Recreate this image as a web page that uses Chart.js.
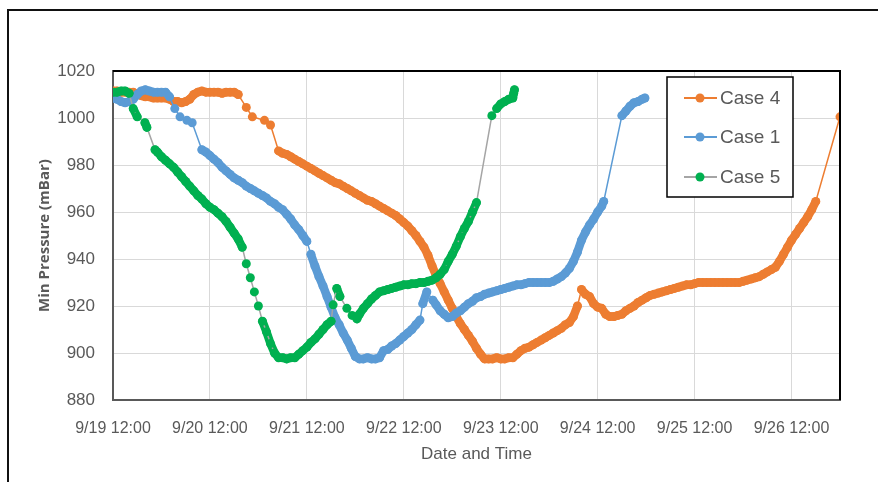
<!DOCTYPE html>
<html>
<head>
<meta charset="utf-8">
<script src="https://cdn.jsdelivr.net/npm/chart.js@4.4.1/dist/chart.umd.min.js"></script>
<style>
  html, body { margin: 0; padding: 0; background: #fff; }
  canvas { display: block; }
</style>
</head>
<body>
<canvas id="pressure" width="878" height="482"></canvas>
<script>
// hours since 9/19 12:00 and min pressure (mBar) for each case
const case4Hours = [0,1,2,3,4,5,6,7,8,9,10,11,12,13,14,15,16,17,18,19,20,21,22,23,24,25,26,27,28,29,30,31,
  33,34.5,37.5,39,
  41,42,43,44,45,46,47,48,49,50,51,52,53,54,55,56,
  57,58,59,60,61,62,63,64,65,66,67,68,69,70,71,72,73,74,75,76,77,
  78,79,80,81,82,83,84,85,86,87,88,89,90,91,92,
  93,94,95,96,97,98,99,
  100,101,102,103,104,105,106,107,108,109,110,111,112,113,114,
  115,116,117,118,119,120,121,122,123,
  124,125,126,127,128,129,130,131,132,133,134,135,136,137,138,139,140,141,142,143,144,145,
  146,147,148,149,150,151,152,153,154,155,156,157,158,159,160,161,162,163,164,
  165,166,167,168,169,170,171,172,173,174,
  180];
const case4Values = [1011.5,1011.5,1011,1011,1011,1011,1010,1009.5,1009,1009,1008.5,1008.5,1008.5,1008.5,1008,1007,1007,1006.5,1007,1008,1010,1011,1011.5,1011,1011,1011,1011,1010.5,1011,1011,1011,1010,
  1004.5,1000.5,999,997,
  986,985,984.5,983.5,982.5,981.5,980.5,979.5,978.5,977.5,976.5,975.5,974.5,973.5,972.5,972,
  971,970,969,968,967,966,965,964.5,963.5,962.5,961.5,960.5,959.5,958.5,957,955.5,954,952,950,947.5,945,
  941.5,937,933,929.5,926,922.5,919,915.5,912.5,910,907.5,905,902,899.5,897.5,
  897.5,897.5,898,897.5,897.5,898,898,
  899.5,901,902,902.5,903.5,904.5,905.5,906.5,907.5,908.5,909.5,910.5,912,913,915.5,
  920,927,925,924,921,919.5,919,916.5,915.5,
  915.5,916,916.5,918,919,920,921.5,922.5,923.5,924.5,925,925.5,926,926.5,927,927.5,928,928.5,929,929,929.5,930,
  930,930,930,930,930,930,930,930,930,930,930.5,931,931.5,932,932.5,933.5,934.5,935.5,936.5,
  939,942,945,948,950.5,953,955.5,958,961,964.5,
  1000.5];

const case1Hours = [0,1,2,3,4,5,6,7,8,9,10,11,12,13,14,
  15.3,16.6,18.3,19.6,
  22,23,24,25,26,27,28,29,
  30,31,32,33,34,35,36,37,38,39,40,41,42,43,44,45,46,47,48,
  49,50,51,52,53,54,55,56,57,58,59,60,
  61,62,63,64,65,66,
  67,68,69,70,71,72,73,74,75,76,
  76.7,77.7,79.2,
  80,81,82,83,84,85,86,87,88,89,90,91,92,93,94,95,96,97,98,99,100,101,102,103,104,105,106,107,108,
  109,110,111,112,113,114,115,116,117,118,119,120,121,
  121.5,
  126,127,128,129,130,131,131.7];
const case1Values = [1008.5,1008,1007,1006.5,1007,1008,1010,1011.5,1012,1011.5,1011,1011,1011,1011,1009,
  1004,1000.5,999,998,
  986.5,985.5,984,982.5,981,979,977.5,976,
  974.5,973.5,972.5,971,970,969,968,967,966,964.5,963.5,962,961,959,957,954.5,952.5,950,947.5,
  942,937,932.5,928.5,924,919.5,915,912,908.5,905.5,902,898.5,
  897.5,897.5,898,897.5,897.5,898,
  901,901.5,903,904,905.5,907,908.5,910,912,914,
  921,926,922.5,
  920.5,918,916.5,915,915.5,917,918,919.5,921,922,923.5,924,925,925.5,926,926.5,927,927.5,928,928.5,929,929,929.5,930,930,930,930,930,930,
  930.5,931.5,932.5,934,936,939,943,948,951.5,954.5,957,960,962.5,
  964.5,
  1001,1003,1005,1006.5,1007,1008,1008.5];

const case5Hours = [0,1,2,3,4,
  5,6,7.9,8.4,10.4,
  11,12,13,14,15,16,17,18,19,20,21,
  22,23,24,25,26,27,28,29,30,31,32,33,34,35,36,37,38,39,40,
  41,42,43,44,45,46,47,48,49,50,51,52,53,54,
  54.5,55.4,56.2,57.9,59.2,60.4,
  61,62,63,64,65,66,67,68,69,70,71,72,73,74,75,76,77,78,79,80,81,82,83,84,85,86,87,88,89,90,
  93.8,95,96,97,98,99,99.2,99.4];
const case5Values = [1011,1011,1011.5,1011.5,1010.5,
  1004,1000.5,998,996,986.5,
  985.5,983.5,982,980.5,979,977,975,973,971,969,967,
  965.5,963.5,962,961,959.5,958,956,953.5,951,948.5,945,938,932,926,920,913.5,909,904,900,
  898,898,897.5,898,898,899.5,901,902.5,904.5,906,908,910,912,913.5,
  920.5,927.5,924,919,916,914.5,
  916.5,919,921,923,924.5,926,926.5,927,927.5,928,928.5,929,929,929.5,929.5,930,930,930.5,931,932,933.5,935.5,939,942,945.5,949.5,953,956,960,964,
  1001,1004,1006,1007,1008,1008.5,1010.5,1012];

const tickHours = [0, 24, 48, 72, 96, 120, 144, 168];
const tickLabels = ['9/19 12:00', '9/20 12:00', '9/21 12:00', '9/22 12:00', '9/23 12:00', '9/24 12:00', '9/25 12:00', '9/26 12:00'];

const seriesNames = ['Case 4', 'Case 1', 'Case 5'];
const lineColors = ['#ed7d31', '#5b9bd5', '#a5a5a5'];
const dotColors = ['#ed7d31', '#5b9bd5', '#00b050'];

const textColor = '#595959';
const tickFont = "'Liberation Sans', Arial, sans-serif";

function toPoints(hours, values) {
    return hours.map((h, i) => ({ x: h, y: values[i] }));
}

const allHours = [case4Hours, case1Hours, case5Hours];
const allValues = [case4Values, case1Values, case5Values];

// hourly samples close together merge into a solid band of markers
function bandColor(hours, color) {
    return (seg) => {
        const dh = hours[seg.p1DataIndex] - hours[seg.p0DataIndex];
        const dist = Math.hypot(seg.p1.x - seg.p0.x, seg.p1.y - seg.p0.y);
        return (dh <= 1.01 && dist <= 13) ? color : 'rgba(0,0,0,0)';
    };
}

const datasets = [];
seriesNames.forEach((name, i) => {
    const pts = toPoints(allHours[i], allValues[i]);
    datasets.push({
        label: name + ' band',
        data: pts,
        borderColor: dotColors[i],
        borderWidth: 8.5,
        borderCapStyle: 'round',
        borderJoinStyle: 'round',
        pointRadius: 0,
        pointHoverRadius: 0,
        segment: { borderColor: bandColor(allHours[i], dotColors[i]) },
        order: 6 - 2 * i,
    });
    datasets.push({
        label: name,
        data: pts,
        borderColor: lineColors[i],
        backgroundColor: dotColors[i],
        borderWidth: 1.5,
        pointRadius: 4.5,
        pointHoverRadius: 4.5,
        pointBorderWidth: 0,
        pointBackgroundColor: dotColors[i],
        order: 5 - 2 * i,
    });
});

// white page + outer frame, plot box top/right edges
const framePlugin = {
    id: 'frame',
    beforeDraw(chart) {
        const c = chart.ctx;
        c.save();
        c.fillStyle = '#fff';
        c.fillRect(0, 0, chart.width, chart.height);
        c.strokeStyle = '#111';
        c.lineWidth = 2;
        c.beginPath();
        c.moveTo(8, chart.height);
        c.lineTo(8, 10);
        c.lineTo(chart.width, 10);
        c.stroke();
        c.restore();
    },
    afterDatasetsDraw(chart) {
        const a = chart.chartArea;
        const c = chart.ctx;
        c.save();
        c.strokeStyle = '#000';
        c.lineWidth = 2;
        c.beginPath();
        c.moveTo(a.left, a.top);
        c.lineTo(a.right, a.top);
        c.lineTo(a.right, a.bottom);
        c.stroke();
        c.restore();
    }
};

// boxed legend inside the plot, like the spreadsheet one
const boxLegend = {
    id: 'boxLegend',
    afterDraw(chart) {
        const c = chart.ctx;
        const bx = 667, by = 77, bw = 126, bh = 120;
        c.save();
        c.fillStyle = '#fff';
        c.fillRect(bx, by, bw, bh);
        c.strokeStyle = '#000';
        c.lineWidth = 1.5;
        c.strokeRect(bx, by, bw, bh);
        const rows = [98, 137, 177];
        c.font = "19px 'Liberation Sans', Arial, sans-serif";
        c.textBaseline = 'middle';
        seriesNames.forEach((name, i) => {
            const y = rows[i];
            c.strokeStyle = lineColors[i];
            c.lineWidth = 2;
            c.beginPath();
            c.moveTo(684, y);
            c.lineTo(717, y);
            c.stroke();
            c.fillStyle = dotColors[i];
            c.beginPath();
            c.arc(700, y, 4.5, 0, Math.PI * 2);
            c.fill();
            c.fillStyle = textColor;
            c.fillText(name, 720, y + 1);
        });
        c.restore();
    }
};

const ctx = document.querySelector('#pressure').getContext('2d');

const config = {
    type: 'line',
    data: { datasets: datasets },
    options: {
        responsive: false,
        animation: false,
        events: [],
        layout: { padding: { left: 30, right: 38, top: 71, bottom: 16 } },
        plugins: {
            legend: { display: false },
            tooltip: { enabled: false },
        },
        scales: {
            x: {
                type: 'linear',
                min: 0,
                max: 180,
                afterBuildTicks: (scale) => {
                    scale.ticks = tickHours.map(v => ({ value: v }));
                },
                afterFit: (scale) => { scale.height = 66; },
                ticks: {
                    autoSkip: false,
                    maxRotation: 0,
                    padding: 19,
                    color: textColor,
                    font: { family: tickFont, size: 16 },
                    callback: (value) => tickLabels[tickHours.indexOf(value)],
                },
                grid: { color: '#d9d9d9', lineWidth: 1, drawTicks: false },
                border: { color: '#595959', width: 2 },
                title: {
                    display: true,
                    text: 'Date and Time',
                    color: textColor,
                    font: { family: tickFont, size: 17 },
                    padding: { top: 0, bottom: 1 },
                },
            },
            y: {
                min: 880,
                max: 1020,
                afterFit: (scale) => { scale.width = 83; },
                ticks: {
                    stepSize: 20,
                    padding: 18,
                    color: textColor,
                    font: { family: tickFont, size: 17 },
                    callback: (value) => String(value),
                },
                grid: { color: '#d9d9d9', lineWidth: 1, drawTicks: false },
                border: { color: '#595959', width: 2 },
                title: {
                    display: true,
                    text: 'Min Pressure (mBar)',
                    color: textColor,
                    font: { family: "'Open Sans', sans-serif", size: 15, weight: '700' },
                    padding: { top: 6, bottom: 0 },
                },
            },
        },
    },
    plugins: [framePlugin, boxLegend],
};

const pressureChart = new Chart(ctx, config);
</script>
</body>
</html>
